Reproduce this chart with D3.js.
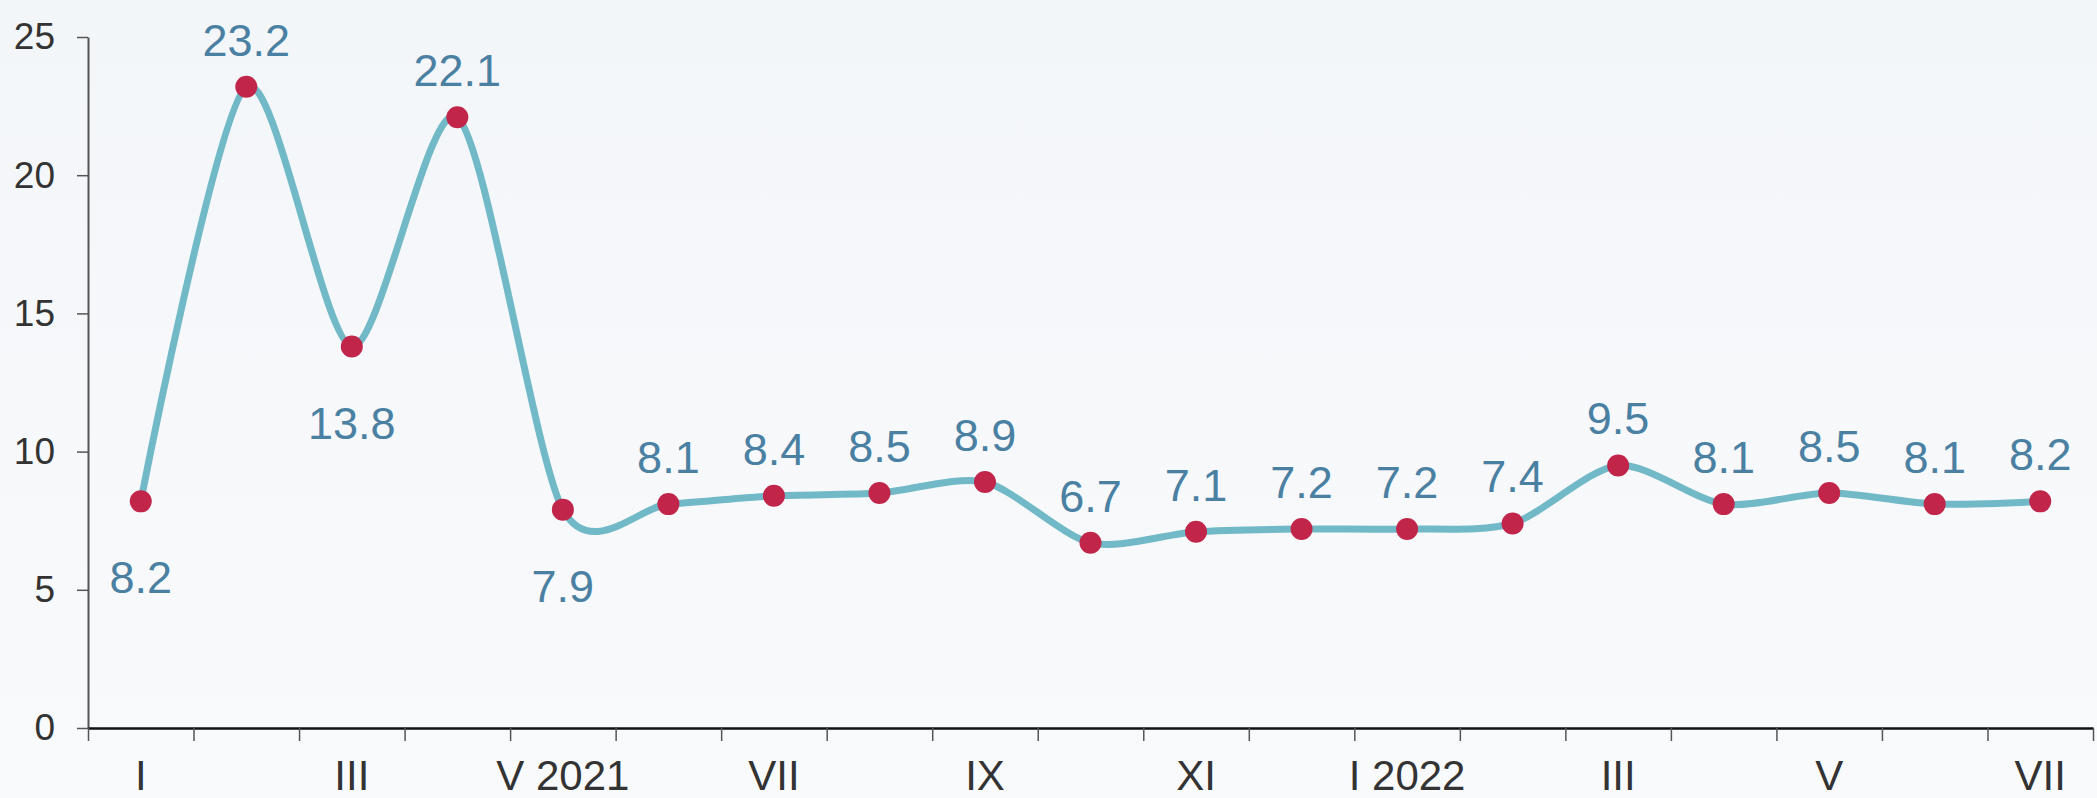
<!DOCTYPE html>
<html>
<head>
<meta charset="utf-8">
<script src="https://cdn.jsdelivr.net/npm/d3@7"></script>
<style>
  html, body { margin: 0; padding: 0; background: #f7f9fb; }
  svg { display: block; }
  text { font-family: "Liberation Sans", Arial, sans-serif; }
</style>
</head>
<body>
<svg id="chart" width="2097" height="798"></svg>
<script>
const categories = ["I","II","III","IV","V 2021","VI","VII","VIII","IX","X","XI","XII","I 2022","II","III","IV","V","VI","VII"];
const tickLabels = ["I","","III","","V 2021","","VII","","IX","","XI","","I 2022","","III","","V","","VII"];
const values = [8.2, 23.2, 13.8, 22.1, 7.9, 8.1, 8.4, 8.5, 8.9, 6.7, 7.1, 7.2, 7.2, 7.4, 9.5, 8.1, 8.5, 8.1, 8.2];
const yTicks = [0, 5, 10, 15, 20, 25];

(function () {
const W = 2097, H = 798;
const mLeft = 88, mRight = 2093, mTop = 37, mBottom = 728;

const svg = d3.select("#chart");

// background gradient
const defs = svg.append("defs");
const grad = defs.append("linearGradient").attr("id", "bg").attr("x1", 0).attr("y1", 0).attr("x2", 0).attr("y2", 1);
grad.append("stop").attr("offset", "0%").attr("stop-color", "#f3f6f9");
grad.append("stop").attr("offset", "100%").attr("stop-color", "#f9fafc");
svg.append("rect").attr("width", W).attr("height", H).attr("fill", "url(#bg)");

const x = d3.scaleBand().domain(d3.range(categories.length)).range([mLeft, mRight]).padding(0);
const xEdge = d3.scaleLinear().domain([0, categories.length]).range([mLeft, mRight]);
const y = d3.scaleLinear().domain([0, 25]).range([mBottom, mTop]);
const cx = i => x(i) + x.bandwidth() / 2;

// Y axis
const yAxis = svg.append("g")
  .attr("transform", `translate(${mLeft},0)`)
  .call(d3.axisLeft(y).tickValues(yTicks).tickSize(11).tickPadding(22).tickSizeOuter(0));
yAxis.select(".domain").attr("stroke", "#555").attr("stroke-width", 2);
yAxis.selectAll(".tick line").attr("stroke", "#555").attr("stroke-width", 1.5);
yAxis.selectAll(".tick text").attr("fill", "#333").attr("font-size", 37);

// X axis ticks at band edges
const xTickAxis = svg.append("g")
  .attr("transform", `translate(0,${mBottom})`)
  .call(d3.axisBottom(xEdge).tickValues(d3.range(categories.length + 1)).tickFormat("").tickSize(13).tickSizeOuter(0));
xTickAxis.select(".domain").attr("stroke", "#111").attr("stroke-width", 2.5);
xTickAxis.selectAll(".tick line").attr("stroke", "#555").attr("stroke-width", 1.5);

// X labels at band centers
const xLabelAxis = svg.append("g")
  .attr("transform", `translate(0,${mBottom})`)
  .call(d3.axisBottom(x).tickFormat(i => tickLabels[i]).tickSize(0));
xLabelAxis.select(".domain").remove();
xLabelAxis.selectAll(".tick text").attr("fill", "#333").attr("font-size", 42).attr("y", 62).attr("dy", 0);

// Line
const line = d3.line()
  .x((d, i) => cx(i))
  .y(d => y(d))
  .curve(d3.curveCardinal.tension(0.2));
svg.append("path")
  .datum(values)
  .attr("d", line)
  .attr("fill", "none")
  .attr("stroke", "#72b9c8")
  .attr("stroke-width", 7)
  .attr("stroke-linecap", "round");

// Dots
svg.append("g").selectAll("circle")
  .data(values)
  .join("circle")
  .attr("cx", (d, i) => cx(i))
  .attr("cy", d => y(d))
  .attr("r", 11)
  .attr("fill", "#c1254a");

// Data labels
const below = (d, i) => {
  const nb = [values[i - 1], values[i + 1]].filter(v => v !== undefined);
  return d3.max(nb) - d > 5;
};
svg.append("g").selectAll("text")
  .data(values)
  .join("text")
  .attr("x", (d, i) => cx(i))
  .attr("y", (d, i) => below(d, i) ? y(d) + 92 : y(d) - 31)
  .attr("text-anchor", "middle")
  .attr("fill", "#4a80a2")
  .attr("font-size", 45)
  .text(d => d.toFixed(1));
})();
</script>
</body>
</html>
